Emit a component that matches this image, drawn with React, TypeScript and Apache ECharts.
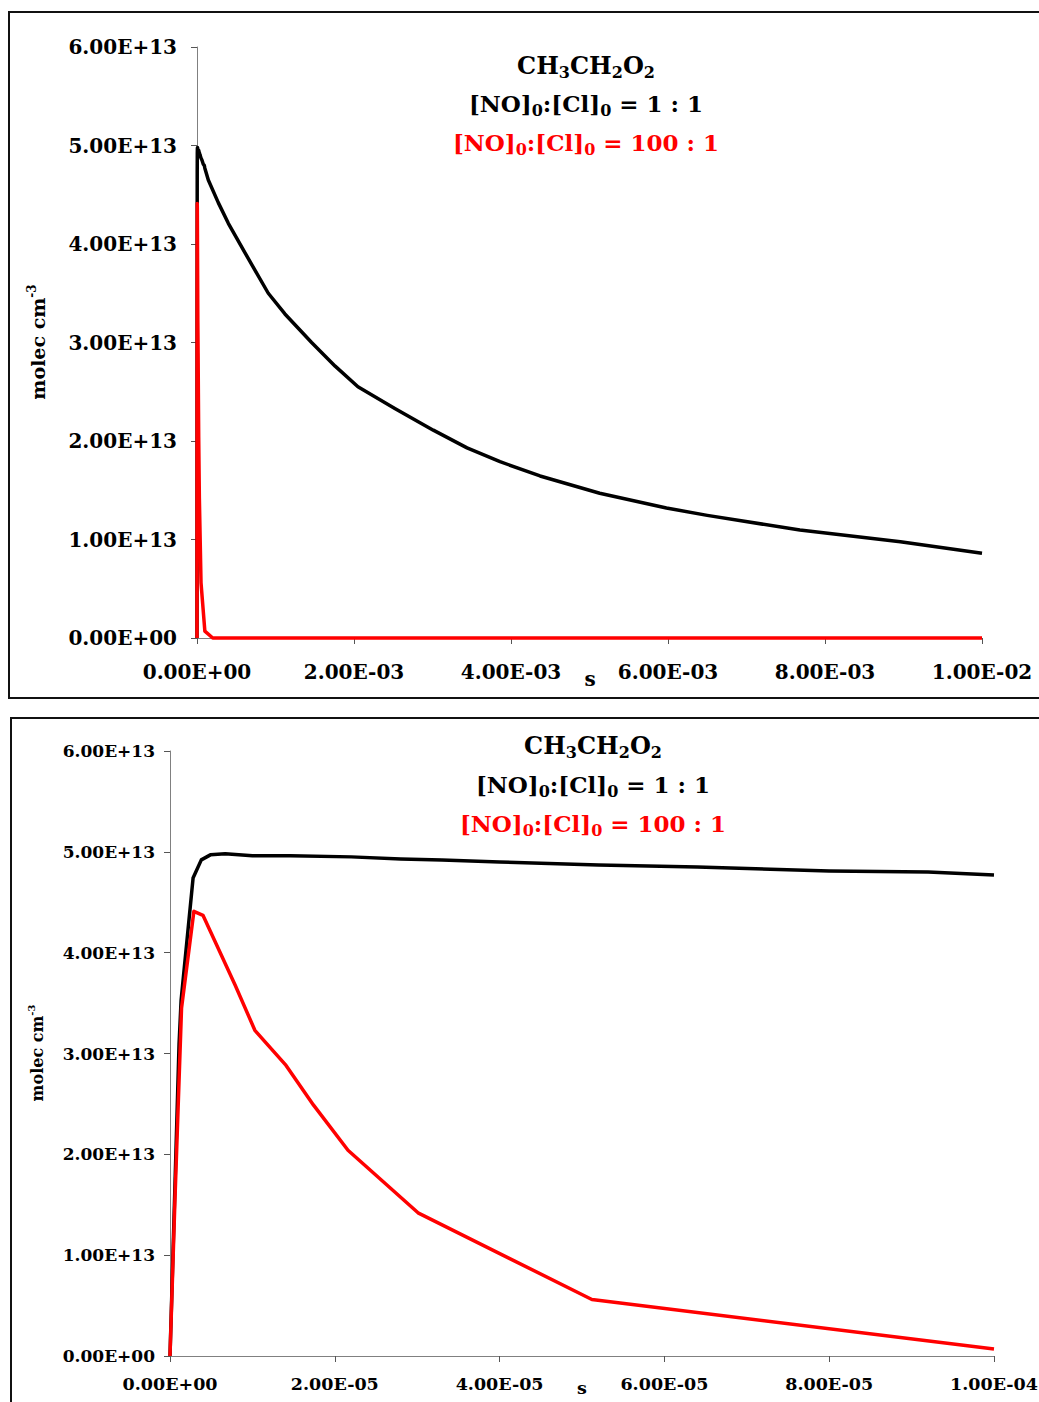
import React, { useEffect, useRef } from "react";
import * as echarts from "echarts";

// ---- Data (time in s, concentration in units of 1e13 molec cm^-3) ----
// Early-time profile (shared by both panels)
const tBlackEarly = [0, 1.1e-6, 1.35e-6, 2.8e-6, 3.8e-6, 4.9e-6, 6.7e-6, 1.0e-5, 1.46e-5, 2.2e-5, 2.8e-5, 3.3e-5, 4.0e-5, 5.2e-5, 6.4e-5, 8.0e-5, 9.2e-5, 1.0e-4];
const vBlackEarly = [0, 3.09, 3.53, 4.74, 4.92, 4.97, 4.98, 4.96, 4.96, 4.95, 4.93, 4.92, 4.90, 4.87, 4.85, 4.81, 4.80, 4.77];
const tRedEarly = [0, 0.6e-6, 1.4e-6, 2.9e-6, 4.0e-6, 7.9e-6, 1.03e-5, 1.4e-5, 1.74e-5, 2.16e-5, 3.01e-5, 5.12e-5, 1.0e-4];
const vRedEarly = [0, 1.55, 3.45, 4.41, 4.37, 3.68, 3.23, 2.89, 2.49, 2.04, 1.42, 0.56, 0.07];
// Late-time profile (top panel only)
const tBlackLate = [1.44e-4, 2.71e-4, 3.99e-4, 6.12e-4, 9.08e-4, 1.12e-3, 1.46e-3, 1.76e-3, 2.05e-3, 2.52e-3, 3.01e-3, 3.44e-3, 3.86e-3, 4.37e-3, 5.13e-3, 5.98e-3, 6.5e-3, 7.68e-3, 8.96e-3, 1.0e-2];
const vBlackLate = [4.65, 4.42, 4.21, 3.91, 3.50, 3.29, 3.00, 2.76, 2.55, 2.33, 2.11, 1.93, 1.79, 1.645, 1.47, 1.32, 1.245, 1.096, 0.978, 0.86];
const tRedLate = [2.0e-4, 1.0e-2];
const vRedLate = [0, 0];

const yTicks = ["0.00E+00", "1.00E+13", "2.00E+13", "3.00E+13", "4.00E+13", "5.00E+13", "6.00E+13"];
const SCALE = 1e13;
const FONT = "DejaVu Serif";

function fmtE(v: number): string {
  if (v === 0) return "0.00E+00";
  const [m, e] = v.toExponential(2).split("e");
  const n = parseInt(e, 10);
  const a = Math.abs(n);
  return m + "E" + (n < 0 ? "-" : "+") + (a < 10 ? "0" : "") + a;
}

function pairs(t: number[], v: number[]) {
  return t.map((x, i) => [x, v[i] * SCALE]);
}

function titleRich(size: number, sub: number, color: string) {
  return {
    m: { fontSize: size, fontWeight: "bold", fontFamily: FONT, lineHeight: 30, fill: color },
    s: { fontSize: sub, fontWeight: "bold", fontFamily: FONT, lineHeight: sub, verticalAlign: "bottom", fill: color },
  };
}

export default function App() {
  const ref = useRef<HTMLDivElement>(null);
  useEffect(() => {
    if (!ref.current) return;
    const chart = echarts.init(ref.current, null, { renderer: "svg" });

    const mkX = (idx: number, max: number, interval: number, fs: number, margin: number) => ({
      type: "value",
      gridIndex: idx,
      min: 0,
      max,
      interval,
      axisLine: { show: true, onZero: false, lineStyle: { color: "#808080", width: 1 } },
      axisTick: { show: true, length: 6, inside: false, lineStyle: { color: "#555" } },
      splitLine: { show: false },
      axisLabel: {
        margin,
        fontFamily: FONT,
        fontWeight: "bold",
        fontSize: fs,
        color: "#000",
        formatter: (v: number) => fmtE(v),
        showMinLabel: true,
        showMaxLabel: true,
        hideOverlap: false,
      },
    });
    const mkY = (idx: number, fs: number, margin: number) => ({
      type: "value",
      gridIndex: idx,
      min: 0,
      max: 6e13,
      interval: 1e13,
      axisLine: { show: true, lineStyle: { color: "#808080", width: 1 } },
      axisTick: { show: true, length: 6, inside: false, lineStyle: { color: "#555" } },
      splitLine: { show: false },
      axisLabel: {
        margin,
        fontFamily: FONT,
        fontWeight: "bold",
        fontSize: fs,
        color: "#000",
        formatter: (v: number) => yTicks[Math.round(v / SCALE)] ?? fmtE(v),
      },
    });

    const line = (name: string, data: number[][], color: string, xi: number) => ({
      name,
      type: "line",
      xAxisIndex: xi,
      yAxisIndex: xi,
      data,
      showSymbol: false,
      symbol: "none",
      smooth: false,
      clip: false,
      lineStyle: { color, width: 3.5, join: "round" },
      itemStyle: { color },
    });

    const titleLines = (cx: number, ys: number[]) => [
      {
        type: "text",
        x: cx,
        y: ys[0],
        style: {
          text: "{m|CH}{s|3}{m|CH}{s|2}{m|O}{s|2}",
          align: "center",
          verticalAlign: "middle",
          rich: titleRich(24, 16, "#000"),
        },
      },
      {
        type: "text",
        x: cx,
        y: ys[1],
        style: {
          text: "{m|[NO]}{s|0}{m|:[Cl]}{s|0}{m| = 1 : 1}",
          align: "center",
          verticalAlign: "middle",
          rich: titleRich(23, 16, "#000"),
        },
      },
      {
        type: "text",
        x: cx,
        y: ys[2],
        style: {
          text: "{m|[NO]}{s|0}{m|:[Cl]}{s|0}{m| = 100 : 1}",
          align: "center",
          verticalAlign: "middle",
          fill: "#ff0000",
          rich: titleRich(23, 16, "#ff0000"),
        },
      },
    ];

    const yName = (cx: number, cy: number, fs: number) => ({
      type: "text",
      x: cx,
      y: cy,
      rotation: Math.PI / 2,
      style: {
        text: "{m|molec cm}{p|-3}",
        align: "center",
        verticalAlign: "middle",
        rich: {
          m: { fontSize: fs, fontWeight: "bold", fontFamily: FONT, lineHeight: fs + 6, fill: "#000" },
          p: { fontSize: Math.round(fs * 0.65), fontWeight: "bold", fontFamily: FONT, lineHeight: Math.round(fs * 0.65), verticalAlign: "top", fill: "#000" },
        },
      },
    });

    const xName = (cx: number, cy: number, fs: number) => ({
      type: "text",
      x: cx,
      y: cy,
      style: {
        text: "s",
        align: "center",
        verticalAlign: "middle",
        fontFamily: FONT,
        fontWeight: "bold",
        fontSize: fs,
        fill: "#000",
      },
    });

    chart.setOption({
      animation: false,
      backgroundColor: "#fff",
      grid: [
        { left: 197, top: 47, width: 785, height: 591, containLabel: false, outerBoundsMode: "none" },
        { left: 170, top: 751, width: 824, height: 605, containLabel: false, outerBoundsMode: "none" },
      ],
      xAxis: [mkX(0, 0.01, 0.002, 20, 24), mkX(1, 1e-4, 2e-5, 17.5, 19)],
      yAxis: [mkY(0, 20, 20), mkY(1, 17, 15)],
      series: [
        line("1:1 (top)", pairs([...tBlackEarly, ...tBlackLate], [...vBlackEarly, ...vBlackLate]), "#000", 0),
        line("100:1 (top)", pairs([...tRedEarly, ...tRedLate], [...vRedEarly, ...vRedLate]), "#ff0000", 0),
        line("1:1 (bottom)", pairs(tBlackEarly, vBlackEarly), "#000", 1),
        line("100:1 (bottom)", pairs(tRedEarly, vRedEarly), "#ff0000", 1),
      ],
      graphic: [
        { type: "rect", shape: { x: 9, y: 12, width: 1036, height: 686 }, style: { fill: "none", stroke: "#111", lineWidth: 2 }, z: -1 },
        { type: "rect", shape: { x: 11, y: 718, width: 1034, height: 690 }, style: { fill: "none", stroke: "#111", lineWidth: 2 }, z: -1 },
        ...titleLines(586, [65, 103, 142]),
        ...titleLines(593, [745, 784, 823]),
        yName(38, 342, 19),
        yName(37, 1053, 16),
        xName(590, 679, 20),
        xName(582, 1388, 17.5),
      ],
    });
    return () => chart.dispose();
  }, []);
  return (
    <div
      ref={ref}
      style={{ position: "absolute", left: 0, top: 0, width: 1039, height: 1402, overflow: "hidden", background: "#fff" }}
    />
  );
}
